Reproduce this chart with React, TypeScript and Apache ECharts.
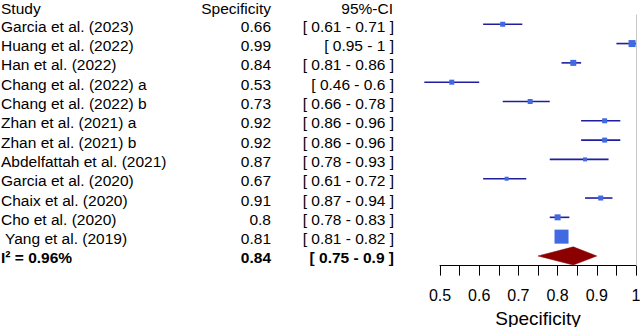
import React, { useEffect, useRef } from "react";
import * as echarts from "echarts";

const studies = [
  "Garcia et al. (2023)",
  "Huang et al. (2022)",
  "Han et al. (2022)",
  "Chang et al. (2022) a",
  "Chang et al. (2022) b",
  "Zhan et al. (2021) a",
  "Zhan et al. (2021) b",
  "Abdelfattah et al. (2021)",
  "Garcia et al. (2020)",
  "Chaix et al. (2020)",
  "Cho et al. (2020)",
  " Yang et al. (2019)",
];
const specificity = [0.66, 0.99, 0.84, 0.53, 0.73, 0.92, 0.92, 0.87, 0.67, 0.91, 0.8, 0.81];
const ciLower = [0.61, 0.95, 0.81, 0.46, 0.66, 0.86, 0.86, 0.78, 0.61, 0.87, 0.78, 0.81];
const ciUpper = [0.71, 1, 0.86, 0.6, 0.78, 0.96, 0.96, 0.93, 0.72, 0.94, 0.83, 0.82];
const weights = [5.0, 9.8, 7.2, 5.0, 5.0, 5.0, 5.0, 3.2, 3.2, 5.0, 7.2, 39.3];

const pooledLabel = "I² = 0.96%";
const pooledEstimate = 0.84;
const pooledLower = 0.75;
const pooledUpper = 0.9;

const headers = ["Study", "Specificity", "95%-CI"];
const xTicks = [0.5, 0.6, 0.7, 0.8, 0.9, 1];
const axisTitle = "Specificity";

const FONT = "'Liberation Sans', Arial, sans-serif";

export default function App() {
  const ref = useRef<HTMLDivElement>(null);

  useEffect(() => {
    if (!ref.current) return;
    const chart = echarts.init(ref.current, undefined, { renderer: "svg" });

    const rows = [...studies, pooledLabel];
    const estRows = [...specificity.map((v) => String(v)), String(pooledEstimate)];
    const ciRows = [
      ...ciLower.map((lo, i) => `[ ${lo} - ${ciUpper[i]} ]`),
      `[ ${pooledLower} - ${pooledUpper} ]`,
    ];
    const last = rows.length - 1;

    const makeY = (data: string[], align: string, margin: number) => ({
      type: "category",
      gridIndex: 0,
      data,
      inverse: true,
      position: "left",
      axisLine: { show: false },
      axisTick: { show: false },
      splitLine: { show: false },
      axisLabel: {
        interval: 0,
        align,
        margin,
        padding: [4, 0, 0, 0],
        fontFamily: FONT,
        fontSize: 15.5,
        color: "#000",
        formatter: (v: string, i: number) => (i === last ? `{b|${v}}` : v),
        rich: {
          b: { fontFamily: FONT, fontSize: 15.5, fontWeight: "bold", color: "#000" },
        },
      },
    });

    const headerStyle = (text: string, align: string) => ({
      text,
      font: `15.5px ${FONT}`,
      fill: "#000",
      align,
      verticalAlign: "top",
    });

    const option: any = {
      animation: false,
      grid: {
        left: 440,
        right: 4,
        top: 14.6,
        bottom: 61.4,
        containLabel: false,
        outerBoundsMode: "none",
      },
      xAxis: {
        type: "value",
        min: 0.5,
        max: 1,
        interval: 0.05,
        splitLine: { show: false },
        axisLine: { show: true, lineStyle: { color: "#000", width: 1 } },
        axisTick: { show: true, length: 10, lineStyle: { color: "#000", width: 1 } },
        axisLabel: {
          margin: 22,
          fontFamily: FONT,
          fontSize: 16,
          color: "#000",
          showMaxLabel: true,
          formatter: (v: number) => {
            const r = Math.round(v * 100) / 100;
            return xTicks.some((t) => Math.abs(t - r) < 1e-9) ? String(r) : "";
          },
        },
        name: axisTitle,
        nameLocation: "middle",
        nameGap: 39,
        nameTextStyle: { fontFamily: FONT, fontSize: 19, color: "#000" },
      },
      yAxis: [makeY(rows, "left", 439), makeY(estRows, "right", 169), makeY(ciRows, "right", 46)],
      graphic: [
        { type: "text", x: 1, y: 0, style: headerStyle(headers[0], "left") },
        { type: "text", x: 271, y: 0, style: headerStyle(headers[1], "right") },
        { type: "text", x: 393, y: 0, style: headerStyle(headers[2], "right") },
      ],
      series: [
        {
          type: "custom",
          name: "ci",
          clip: false,
          data: ciLower.map((lo, i) => [lo, ciUpper[i], i]),
          encode: { x: [0, 1], y: 2 },
          renderItem: (params: any, api: any) => {
            const p1 = api.coord([api.value(0), api.value(2)]);
            const p2 = api.coord([api.value(1), api.value(2)]);
            return {
              type: "line",
              shape: { x1: p1[0], y1: p1[1], x2: p2[0], y2: p2[1] },
              style: { stroke: "#1f1f9e", lineWidth: 1.6 },
            };
          },
          z: 2,
        },
        {
          type: "scatter",
          name: "est",
          symbol: "rect",
          data: specificity.map((v, i) => ({
            value: [v, i],
            symbolSize: Math.sqrt(weights[i] * 5),
          })),
          itemStyle: { color: "#4169e1", opacity: 1 },
          z: 3,
          markLine: {
            silent: true,
            symbol: "none",
            label: { show: false },
            lineStyle: { color: "#c8c8c8", type: "solid", width: 1 },
            data: [{ xAxis: 1 }],
          },
        },
        {
          type: "custom",
          name: "pooled",
          clip: false,
          data: [[pooledLower, pooledEstimate, pooledUpper, last]],
          encode: { x: [0, 1, 2], y: 3 },
          renderItem: (params: any, api: any) => {
            const y = api.value(3);
            const lo = api.coord([api.value(0), y]);
            const mid = api.coord([api.value(1), y]);
            const hi = api.coord([api.value(2), y]);
            const h = api.size([0, 1])[1] * 0.47;
            return {
              type: "polygon",
              shape: {
                points: [
                  [lo[0], lo[1]],
                  [mid[0], mid[1] - h],
                  [hi[0], hi[1]],
                  [mid[0], mid[1] + h],
                ],
              },
              style: { fill: "#8b0000", stroke: "#8b0000", lineWidth: 0.5 },
            };
          },
          z: 3,
        },
      ],
    };

    chart.setOption(option);
    return () => chart.dispose();
  }, []);

  return <div ref={ref} style={{ width: 640, height: 327, position: "absolute", left: 0, top: 0 }} />;
}
